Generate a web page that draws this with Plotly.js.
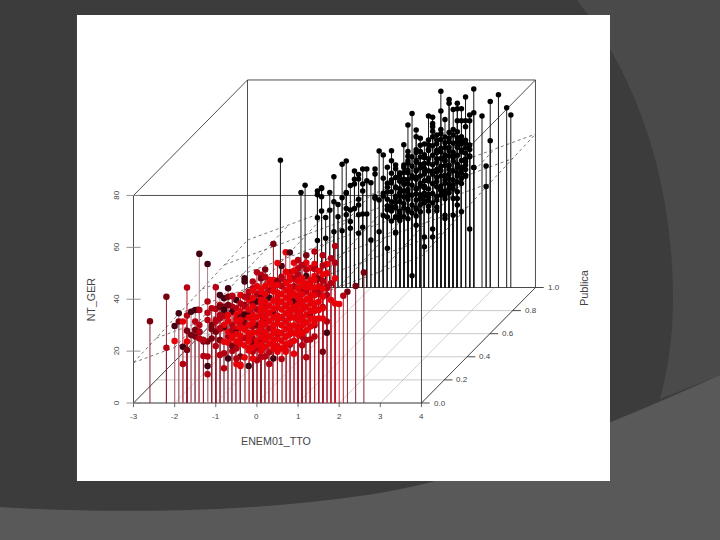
<!DOCTYPE html>
<html>
<head>
<meta charset="utf-8">
<script src="https://cdn.plot.ly/plotly-3.0.1.min.js"></script>
<style>html,body{margin:0;padding:0;background:#3c3c3c}</style>
</head>
<body>
<div id="chart" style="width:720px;height:540px"></div>
<script>
// ENEM01_TTO, NT_GER for Publica = 1 (black)
const publicSparse = [
[1.69,75.7],[2.52,76.5],[2.29,73.4],[1.92,72.5],[1.92,71],[2.11,71],[3.12,74.3],[2.94,71.7],[3.32,69.3],[3.35,66.5],
[1.03,67.1],[1.69,68],[2.2,68.9],[2,68.6],[2.11,68.9],[1.4,66.1],[1.47,65.6],[2.52,67.4],[2.41,66.5],[2.67,66.1],
[1.84,64.8],[2.08,64.3],[2.2,64.3],[2.33,64.3],[2.43,64.3],[0.95,62.6],[1.52,63.2],[1.53,62],[1.68,60.9],[1.46,60.2],
[2.29,62],[2.04,60.9],[2.08,60],[1.11,60.7],[1.11,58.1],[1.23,57.5],[2.94,56.6],[2.2,58.1],[2.33,56.8],
[-2.19,49.1],[-1.6,39.4],[-1.73,36.6],[-1.35,37.2],[-1.34,35.8],[-1.2,38.2],[-1.16,38.5],[-1.18,35],[-1.02,36.6],
[-0.88,42.7],[-0.73,47.5],[-0.58,48.8],[-0.92,33.1],[-0.85,32],[-0.71,34.6],[-0.63,36.3],[-0.58,36.6],[-0.55,39.3],
[-0.45,39.9],[-0.43,44.9],[-0.43,41.7],[-0.32,43.6],[-0.32,41.8],[-0.2,45.7],[-0.08,45.7],[0.12,45.7],[0.09,43.8],
[-0.17,39.9],[-0.19,37.2],[-0.06,41.2],[0.02,40.4],[-0.31,34],[-0.31,31.8],[-1.17,29.5],[-1.04,29.8],[-0.85,27.3],
[-1.08,27],[-1.35,26.9],[-0.58,30.5],[-0.45,30.5],[-0.59,28],[-0.47,29.9],[-0.35,28],[-0.2,28.3],[-0.06,28.3],
[0.06,34.4],[0.15,35],[0.22,33.7],[0.34,36.3],[0.46,48.9],[0.28,51.1],[0.22,52.6],[0.51,52.7],[0.83,55],[0.87,52.4],
[-0.87,21.5],[-0.73,21.9],[-0.53,22.8],[-0.53,25.4],[-0.19,23.2],[-0.29,20.9],[-0.02,18.3],[0.18,21.5],[-1.34,18.1],
[-1.08,19],[0.38,15.1],[0.61,21.3],[0.62,27.3],[0.46,31.2],[0.54,41.4],[0.61,47.2],[0.71,44],
[2.42,50.7],[2.53,46.3],[2.78,46.8],[2.78,38.9],[2.19,29.2],[2.41,22.6],[2.11,31.8],[2.08,34.3],[1.03,4.5],
[1.31,15.7],[1.46,19.5],[1.26,19.5],[1.52,22.6],[1.15,24],[1.84,26.6],[1.96,27.9],[1.84,27.9],[1.6,29.6],[1.96,34.3],
[2.08,36.9],[2.2,40.1],[2.49,46.3],[2.33,43.3],[2.2,44],[0.58,21]
];
const publicDense = [
[0.33,42.1],[0.37,38.6],[0.31,35.2],[0.36,31.4],[0.34,27.8],[0.5,44],[0.47,40.3],[0.52,36.9],[0.48,33.1],[0.53,29.5],[0.49,25.6],
[0.62,45.8],[0.65,42.2],[0.6,38.7],[0.64,34.6],[0.61,31],[0.66,27.4],[0.75,47.2],[0.73,43.5],[0.78,39.8],[0.74,36.4],[0.77,32.3],[0.72,28.6],
[0.88,48.9],[0.86,45.1],[0.91,41.6],[0.87,37.8],[0.9,33.9],[0.85,30.2],[0.89,26.5],[1.01,50.4],[0.98,46.7],[1.03,43.1],[0.99,39.4],[1.02,35.6],[0.97,31.8],[1.04,28.7],
[1.12,53.1],[1.15,49],[1.1,45.3],[1.14,41.7],[1.11,37.9],[1.16,34.2],[1.13,30.6],[1.09,27.6],[1.24,54.8],[1.27,51.2],[1.22,47.4],[1.26,43.8],[1.23,40.1],[1.28,36.3],[1.25,32.7],[1.21,29.2],
[1.37,56.9],[1.35,53.3],[1.39,49.6],[1.34,45.9],[1.38,42.2],[1.33,38.5],[1.4,34.8],[1.36,31.2],[1.49,58.1],[1.52,54.6],[1.47,51],[1.51,47.3],[1.46,43.7],[1.5,40],[1.48,36.2],[1.53,32.6],[1.45,29.5],
[1.62,58.8],[1.6,55.4],[1.65,51.9],[1.59,48.2],[1.63,44.6],[1.61,40.9],[1.66,37.3],[1.6,33.7],[1.64,31],[1.74,59.3],[1.77,55.8],[1.72,52.3],[1.76,48.8],[1.71,45.1],[1.75,41.4],[1.73,37.8],[1.78,34.2],
[1.87,59.8],[1.85,56.2],[1.9,52.7],[1.84,49],[1.88,45.6],[1.86,42],[1.91,38.3],[1.83,35.5],[2,58.8],[1.98,55.6],[2.03,52.1],[1.97,48.7],[2.01,45],[1.99,41.4],[2.04,38],
[2.12,57.7],[2.1,54.4],[2.15,51],[2.09,47.5],[2.13,44.2],[2.11,40.7],[2.24,56.5],[2.22,53],[2.27,49.6],[2.21,46.4],[2.25,42.9],[2.33,53.8],[2.36,50.4],[2.32,47.2],[2.38,54.9],
[0.42,46.4],[0.41,34],[0.56,38.5],[0.58,32.8],[0.69,41],[0.7,35.2],[0.81,44.3],[0.82,37.2],[0.94,47.9],[0.95,36.4],[1.07,42.4],[1.06,33.7],[1.19,50.3],[1.18,39],[1.31,47.8],[1.3,35.5],[1.43,41.1],[1.43,52.8],[1.56,45.5],[1.56,38.8],[1.68,49.7],[1.68,43],[1.81,54],[1.81,40.2],[1.94,50.8],[1.94,43.8],[2.06,56.2],[2.06,46.3],[2.18,49],[2.3,51.8],
[0.41,40.2],[0.43,36.8],[0.4,30],[0.44,27.2],[0.55,42.4],[0.57,35.2],[0.56,30.6],[0.55,27],[0.68,44.1],[0.69,38.1],[0.67,33.2],[0.68,29.4],[0.69,25.8],[0.8,46.3],[0.81,41.7],[0.8,34.9],[0.81,30.6],[0.8,27.3],
[0.93,50.6],[0.93,44.2],[0.94,39.9],[0.93,35.4],[0.94,29.4],[1.06,52],[1.07,48.3],[1.06,44.9],[1.07,38.1],[1.06,30.3],[1.19,52.4],[1.18,46.2],[1.19,43],[1.2,35.8],[1.18,31.9],[1.31,55.3],[1.3,50],[1.31,44.9],[1.3,41.2],[1.31,33.4],
[1.43,55],[1.44,47.9],[1.43,45],[1.44,38],[1.43,33.3],[1.56,56.9],[1.56,52.9],[1.57,49.6],[1.56,42.4],[1.57,35.1],[1.68,57.1],[1.69,53.7],[1.68,46.7],[1.69,39.1],[1.68,35.7],[1.81,58],[1.82,51.1],[1.81,47],[1.82,43.2],[1.8,37.1],
[1.94,57.5],[1.93,54],[1.94,47.1],[1.93,40],[1.94,36.5],[2.06,54],[2.05,50],[2.06,43],[2.05,39.5],[2.18,55.3],[2.17,52.2],[2.18,45.6],[2.17,42],[2.3,55.6],[2.29,48.6],[2.3,45.5],[2.36,53.2],[1.25,39],[1.13,36],[0.98,42.3],[0.76,41.6],[1.39,35.9],[1.5,44.8],[1.75,50.3],[1.99,51]
];
// ENEM01_TTO, NT_GER, colour shade for Publica = 0 (red)
const privateSparse = [
[-2.64,31.5,2],[-2.2,41,2],[-2.2,21.3,1],[-1.73,44.5,1],[-1.36,57.5,3],[-1.17,53.6,3],[-1.05,44.6,1],[-1.94,34.6,3],[-1.99,29.7,3],[-1.94,31.4,2],
[-1.99,23.9,0],[-1.79,31.4,0],[-1.73,33.7,1],[-1.73,27.9,2],[-1.74,23.7,0],[-1.78,21.7,3],[-1.73,20.4,2],[-1.78,15,1],[-1.59,35.2,3],[-1.52,35.9,3],
[-1.55,31.4,1],[-1.53,28.1,2],[-1.52,25.6,2],[-1.4,30.1,1],[-1.36,35.9,1],[-1.37,27.5,2],[-1.43,24.9,1],[-1.35,18.1,1],[-1.3,23.7,2],[-1.22,23.7,2],
[-1.18,39.1,1],[-1.22,34.8,1],[-1.17,32,1],[-1.18,17.9,1],[-1.18,14.3,3],[-1.18,11.1,1],[-1.06,36.5,1],[-1.0,36.2,1],[-1.0,32,1],[-1.06,28.4,2],
[-1.06,24.9,2],[-1.0,22,1],[-0.92,41.6,3],[-0.86,37.8,1],[-0.7,44.2,3],[-0.76,40.4,3],[-0.8,37.1,2],[-0.86,33.9,1],[-0.76,33.5,1],[-0.82,29.2,3],
[-0.9,28.4,0],[-0.86,24.3,0],[-0.82,19.2,1],[-0.86,18.5,1],[-0.7,17.2,3],[-0.84,13.4,1],[-0.49,15,0],[-0.39,14.3,0],[-0.43,17.9,2],[-0.19,14.3,3],
[-0.56,41.3,1],[-0.58,37.1,1],[-0.58,35.2,3],[-0.48,39.7,3],[-0.33,48.1,3],[-0.33,46.8,3],[-0.08,46.8,1],[0.03,50.4,1],[0.07,49.4,1],[0.24,51.5,2],
[0.11,48,2],[0.41,61.3,2],[0.66,58.1,0],[0.82,58,3],[0.64,52.8,3],[1.23,57,2],[0.88,54.1,0],[1,55.1,1],[1.21,54.1,0],[1.37,58.4,1],
[1.6,57,1],[1.41,53.6,0],[1.69,53.6,0],[1.76,55.8,1],[1.91,60.5,1],[1.91,54.1,1],[1.68,50,0],[2.63,50.3,2],[1.73,44.2,1],[1.9,48.1,0],
[2.39,45.1,2],[2.2,42.9,2],[2.1,41.3,1],[1.92,38.4,0],[2,38.2,0],[1.73,41.6,1],[1.53,35.9,0],[1.49,32.6,0],[1.68,31.4,1],[1.67,27.1,3],
[1.6,19.8,2],[1.37,25.6,1],[1.25,24.5,1],[1.17,17.6,1],[0.66,19.8,0],[0.44,17.2,3],[0.32,15,1],[0.14,17.6,0],[-0.11,19.8,1],[-0.49,21.7,2],
[-0.65,20,1],[-0.3,17.5,0],[-0.05,16.5,1],[0.55,17,1],[0.95,19,0],[1.07,22.3,1],[1.58,37,1],[1.5,43,1],[1.82,46.2,1],[0.5,54,0],[0.3,47.5,0],[0.75,50.4,1],
[-0.66,41,2],[-0.56,41.2,1],[-0.45,41.6,0],[-0.33,41,1],[-0.66,37.8,2],[-0.49,36.5,1],[-0.29,37.8,2],[-0.9,37.1,2],[-0.82,35.9,3],[-0.66,33.9,0],[-0.49,32.6,1],[-0.33,33.3,0],[-0.78,30.1,0],[-0.62,30.1,1],[-0.45,28.8,0],[-0.29,28.8,0],
[-0.74,25.6,1],[-0.58,26.2,0],[-0.41,24.9,0],[-0.25,24.3,0],[-0.09,24.9,1],[-0.21,21.1,0],[-0.01,21.7,0],[0.15,23.7,0],[0.15,17.9,1],[-1.14,30.1,2],[-1.02,31.4,1],[-0.9,32.6,1],[-0.98,27.5,2],[-1.39,27.5,1],[-1.26,24.3,1],[-1.59,26.2,2],[-0.86,28.8,1],[-0.9,24.3,2],
[0.23,48.7,1],[0.36,47.4,0],[0.56,48.7,1],[0.72,50.6,0],[0.96,51.9,1],[1.45,47.4,0],[1.69,44.9,1],[1.77,39.7,0],[1.61,32.6,0],[1.41,30,1],[1.21,24.3,1],[0.72,20.4,0],[0.48,20.4,0],[0.23,17.9,1],[-0.13,17.2,0],[-0.41,14.7,0],[-0.53,17.2,1],[1.1,53.2,1],[1.55,53,1],[1.3,52,0],
[-0.72,27.5,0],[-0.68,23.2,0],[-0.7,31.6,0],[-0.55,28.6,0],[-0.54,31.6,0],[-0.55,34,0],[-0.42,35.4,0],[-0.4,38.4,1],[-0.2,39.6,0],[-0.24,42.8,1],[-0.1,44.2,1],[-0.78,23.6,0]
];
const privateDense = [
[-0.62,22,2],[-0.59,25.2,0],[-0.63,28.1,1],[-0.47,21,1],[-0.44,24.3,0],[-0.48,27,3],[-0.45,30.2,1],[-0.43,33.1,2],[-0.31,22.2,0],[-0.28,25.1,1],[-0.33,28.2,0],[-0.29,31,2],[-0.32,34.1,3],[-0.3,37.2,1],
[-0.16,20.2,0],[-0.14,23.1,2],[-0.17,26,0],[-0.13,29.3,1],[-0.15,32,0],[-0.18,35.1,3],[-0.14,38.2,2],[-0.16,41,1],[0.01,21.1,1],[0.03,24,0],[-0.02,27.2,0],[0.02,30,2],[0,33.2,0],[-0.01,36,1],[0.04,39.1,3],[0.01,42,1],[-0.02,45,0],
[0.15,20,0],[0.13,23.2,1],[0.17,26,0],[0.14,29.1,0],[0.16,32.2,3],[0.13,35,0],[0.17,38,1],[0.15,41.2,2],[0.14,44,0],[0.3,19.6,1],[0.28,22.8,0],[0.32,25.6,0],[0.29,28.7,1],[0.31,31.6,0],[0.27,34.7,0],[0.33,37.5,0],[0.3,40.6,3],[0.28,43.5,1],[0.32,46.2,0],
[0.45,19.8,0],[0.43,23,0],[0.47,25.9,1],[0.44,29,0],[0.46,32,0],[0.42,35.2,2],[0.48,38,0],[0.45,41,0],[0.43,44.2,1],[0.47,47,2],[0.6,21,0],[0.58,24,0],[0.62,27,0],[0.59,30,0],[0.61,33,3],[0.57,36,0],[0.63,39,0],[0.6,42,0],[0.58,45,1],[0.62,48,1],
[0.75,22.5,1],[0.73,25.5,0],[0.77,28.5,0],[0.74,31.5,0],[0.76,34.5,0],[0.72,37.5,2],[0.78,40.5,0],[0.75,43.5,0],[0.73,46.5,3],[0.77,49,0],[0.9,24,0],[0.88,27,0],[0.92,30,0],[0.89,33,0],[0.91,36,0],[0.87,39,3],[0.93,42,0],[0.9,45,1],[0.88,48,1],[0.92,51,0],
[1.05,25.5,1],[1.03,28.5,0],[1.07,31.5,0],[1.04,34.5,0],[1.06,37.5,0],[1.02,40.5,0],[1.08,43.5,2],[1.05,46.5,0],[1.03,49.5,1],[1.2,28,0],[1.18,31,0],[1.22,34,0],[1.19,37,0],[1.21,40,0],[1.17,43,1],[1.23,46,0],[1.2,49,3],[1.18,51.5,1],
[1.35,31,0],[1.33,34,1],[1.37,37,0],[1.34,40,0],[1.36,43,1],[1.32,46,0],[1.38,49,0],[1.35,51.7,1],[1.5,39,0],[1.48,42,1],[1.52,45,0],[1.49,48,2],[1.51,51,0],[1.62,44,0],[1.6,47,1],
[-0.05,22.5,0],[0.08,25.4,0],[0.22,21.5,0],[0.22,27.3,0],[0.37,24.3,0],[0.37,30,0],[0.52,27.5,0],[0.52,33.6,0],[0.52,39.7,0],[0.67,31.5,0],[0.67,37.5,0],[0.67,43.5,0],[0.82,26.5,0],[0.82,32.8,0],[0.82,38.8,0],[0.82,44.7,0],[0.97,35,0],[0.97,41,0],[0.97,29,0],[1.12,33,0],[1.12,39,0],[1.12,45,0],[1.27,35.5,0],[1.27,41.5,0],[1.42,38.5,0],[1.42,44.5,0],[0.22,33,0],[0.07,36.8,0],[0.37,43,0],[0.07,31,0],[-0.22,30,0],[-0.08,27,0],
[-0.52,23.6,0],[-0.53,26.6,0],[-0.37,22.8,0],[-0.38,26,0],[-0.37,29.5,0],[-0.37,32,0],[-0.22,23.8,0],[-0.22,27,0],[-0.23,33,0],[-0.22,36,0],[-0.07,21.4,0],[-0.07,30.8,0],[-0.08,34,0],[-0.07,37.3,0],[-0.07,40.4,0],[-0.08,43.4,0],[0.08,22.6,0],[0.07,28.2,0],[0.08,33.9,0],[0.08,39.8,0],[0.08,42.8,0],
[0.22,24.4,0],[0.23,30.4,0],[0.23,36,0],[0.22,39,0],[0.23,42,0],[0.23,45.1,0],[0.37,21,0],[0.38,27,0],[0.37,33,0],[0.38,36.3,0],[0.38,39.4,0],[0.38,45.2,0],[0.52,22,0],[0.53,24.8,0],[0.52,30.6,0],[0.53,36.8,0],[0.53,42.6,0],[0.52,45.6,0],
[0.67,22.6,0],[0.68,25.6,0],[0.67,28.6,0],[0.68,34.6,0],[0.68,40.6,0],[0.67,46.4,0],[0.82,23.2,0],[0.83,29.8,0],[0.82,35.8,0],[0.83,41.8,0],[0.82,47.4,0],[0.98,26.3,0],[0.97,32,0],[0.98,38,0],[0.97,44,0],[0.98,47,0],[1.12,27,0],[1.13,30,0],[1.12,36,0],[1.13,42,0],[1.12,48,0],
[1.27,29.5,0],[1.27,32.5,0],[1.28,38.5,0],[1.27,44.5,0],[1.27,47.5,0],[1.42,32.5,0],[1.42,35.5,0],[1.43,41.5,0],[1.43,47.5,0],[1.55,36.5,0],[1.56,41,0],[1.56,49.5,0],[0.3,34.7,0],[0.6,33,0],[0.9,37,0],[0.45,33.6,0],[0.15,38.6,0],[0.75,36,0],[1.05,39,0],[1.2,44.5,0]
];
// Axis ticks and labels
const xTicks = [-3,-2,-1,0,1,2,3,4];
const pubTicks = [0,0.2,0.4,0.6,0.8,1];
const zTicks = [0,20,40,60,80];
const pubLabels = ["0.0","0.2","0.4","0.6","0.8","1.0"];
// Regression plane NT_GER = b0 + b1*ENEM01_TTO + b2*Publica
const planeCoef = [33.1,5.84,2.7];
const titleX = "ENEM01_TTO", titleY = "Publica", titleZ = "NT_GER";
// The stems of the picture stand about 0.1 score units apart: readings are taken to that resolution
const readStep = 0.1;
const snap = v => Math.round(v/readStep)*readStep;

// Oblique projection of scatterplot3d
const W=720,H=540,pxX=41.14,pxZ=2.594,ox=133.5,oz=403,depthX=114,depthY=115.5;
const sx=(x,p)=>x+p*depthX/pxX;
const sz=(z,p)=>z+p*depthY/pxZ;
const pline=(pts)=>({x:pts.map(q=>q===null?null:sx(q[0],q[1])),y:pts.map(q=>q===null?null:sz(q[2],q[1]))});
const xr=[-3-ox/pxX,-3+(W-ox)/pxX], yr=[(oz-H)/pxZ,oz/pxZ];
const traces=[];
const seg=(pts,color,width,dash)=>{const l=pline(pts);traces.push({type:'scatter',mode:'lines',x:l.x,y:l.y,hoverinfo:'skip',line:{color,width,dash:dash||'solid'}});};
const xMin=xTicks[0],xMax=xTicks[xTicks.length-1],zMax=zTicks[zTicks.length-1];

// floor grid
seg(xTicks.flatMap(x=>[[x,0,0],[x,1,0],null]),'#c4c4c4',0.8);
seg(pubTicks.flatMap(p=>[[xMin,p,0],[xMax,p,0],null]),'#bdbdbd',0.8);
// box
seg([[xMin,0,0],[xMax,0,0],[xMax,1,0],[xMin,1,0],[xMin,0,0],null,
     [xMin,0,zMax],[xMax,0,zMax],[xMax,1,zMax],[xMin,1,zMax],[xMin,0,zMax],null,
     [xMin,0,0],[xMin,0,zMax],null,[xMax,0,0],[xMax,0,zMax],null,[xMin,1,0],[xMin,1,zMax],null,[xMax,1,0],[xMax,1,zMax]],'#3c3c3c',0.9);
// tick marks
seg(xTicks.flatMap(x=>[[x,0,0],[x,0,-1.6],null]),'#444',0.8);
seg(pubTicks.flatMap(p=>[[xMax,p,0],[xMax+0.2,p,0],null]),'#333',0.9);
seg(zTicks.flatMap(z=>[[xMin-0.17,0,z],[xMin+0.17,0,z],null]),'#888',0.9);
// plane
const pz=(x,p)=>planeCoef[0]+planeCoef[1]*x+planeCoef[2]*p;
seg([...xTicks.flatMap(x=>[[x,0,pz(x,0)],[x,1,pz(x,1)],null]),...pubTicks.flatMap(p=>[[xMin,p,pz(xMin,p)],[xMax,p,pz(xMax,p)],null])],'#555',0.8,'3px,3px');

// black group
const pub=[...publicSparse,...publicDense].map(d=>[snap(d[0]),d[1]]);
seg(pub.flatMap(d=>[[d[0],1,0],[d[0],1,d[1]],null]),'#1a1a1a',1);
traces.push({type:'scatter',mode:'markers',x:pub.map(d=>sx(d[0],1)),y:pub.map(d=>sz(d[1],1)),marker:{color:'#000',size:5.5},hovertemplate:'%{text}<extra></extra>',text:pub.map(d=>d[0].toFixed(1)+', '+d[1])});
// red group
const shadeColors=['#e80008','#b40012','#78000f','#420010'];
const stemColors=['#d01020','#b01828','#8a2030','#b08088'];
const priv=[...privateSparse,...privateDense].map(d=>[snap(d[0]),d[1],d[2]]);
shadeColors.forEach((c,s)=>seg(priv.filter(d=>d[2]===s).flatMap(d=>[[d[0],0,0],[d[0],0,d[1]],null]),stemColors[s],1));
traces.push({type:'scatter',mode:'markers',x:priv.map(d=>sx(d[0],0)),y:priv.map(d=>sz(d[1],0)),marker:{color:priv.map(d=>shadeColors[d[2]]),size:6.5},hovertemplate:'%{text}<extra></extra>',text:priv.map(d=>d[0].toFixed(1)+', '+d[1])});

// text
const tc='#444444';
const ann=[];
const lab=(x,y,text,size,angle)=>ann.push({x,y,text:String(text),showarrow:false,xref:'x',yref:'y',xanchor:'center',yanchor:'middle',textangle:angle||0,font:{family:'Liberation Sans, Arial, sans-serif',size,color:tc}});
xTicks.forEach(x=>lab(sx(x,0),-5.2,x,8));
pubTicks.forEach((p,i)=>lab(sx(xMax,p)+0.44,sz(0,p),pubLabels[i],8));
zTicks.forEach(z=>lab(sx(xMin,0)-0.42,z,z,8,-90));
lab(sx(0.47,0),-14.6,titleX,10.7);
lab(sx(xMin,0)-1.03,sz(40,0),titleZ,10.7,-90);
lab(sx(xMax,1)+1.17,sz(0,1),titleY,11,-90);

// slide backdrop (pixel positions mapped to paper)
const P=(x,y)=>(x/W).toFixed(4)+','+(1-y/H).toFixed(4);
const sh=(path,color)=>({type:'path',path,xref:'paper',yref:'paper',fillcolor:color,line:{width:0},layer:'below'});
const shapes=[
 sh('M'+P(577,0)+' C'+P(638,78)+' '+P(673,180)+' '+P(673,300)+' C'+P(673,335)+' '+P(668,370)+' '+P(660,399)+' L'+P(720,375)+' L'+P(720,0)+' Z','#4a4a4a'),
 sh('M'+P(0,507)+' C'+P(100,513)+' '+P(240,514)+' '+P(367,495)+' C'+P(480,478)+' '+P(610,425)+' '+P(720,375)+' L'+P(720,540)+' L'+P(0,540)+' Z','#595959'),
 sh('M'+P(77,15)+' L'+P(610,15)+' L'+P(610,481)+' L'+P(77,481)+' Z','#ffffff')
];
const layout={width:W,height:H,margin:{l:0,r:0,t:0,b:0,pad:0},paper_bgcolor:'#3c3c3c',plot_bgcolor:'rgba(0,0,0,0)',showlegend:false,
 xaxis:{range:xr,visible:false,fixedrange:true},yaxis:{range:yr,visible:false,fixedrange:true},shapes,annotations:ann};
Plotly.newPlot('chart',traces,layout,{displayModeBar:false});
</script>
</body>
</html>
